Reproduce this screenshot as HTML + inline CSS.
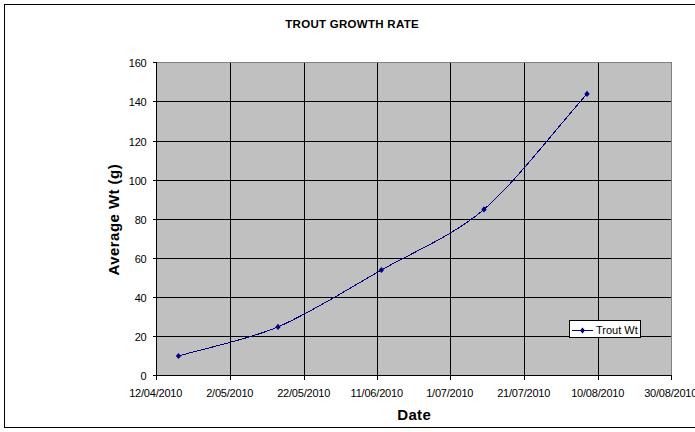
<!DOCTYPE html>
<html><head><meta charset="utf-8"><style>
html,body{margin:0;padding:0;background:#fff;width:695px;height:432px;overflow:hidden}
svg{display:block;font-family:"Liberation Sans",sans-serif}
</style></head><body>
<svg width="695" height="432" viewBox="0 0 695 432">
<rect width="695" height="432" fill="#fff"/>
<path d="M4.5,4V428M4,4.5H695M4,427.5H695" stroke="#000" shape-rendering="crispEdges"/>
<g shape-rendering="crispEdges">
<rect x="156" y="62" width="516" height="314" fill="#C0C0C0"/>
<path d="M156,101.5H672" stroke="#000"/>
<path d="M156,141.5H672" stroke="#000"/>
<path d="M156,180.5H672" stroke="#000"/>
<path d="M156,219.5H672" stroke="#000"/>
<path d="M156,258.5H672" stroke="#000"/>
<path d="M156,297.5H672" stroke="#000"/>
<path d="M156,336.5H672" stroke="#000"/>
<path d="M230.5,62V376" stroke="#000"/>
<path d="M304.5,62V376" stroke="#000"/>
<path d="M377.5,62V376" stroke="#000"/>
<path d="M450.5,62V376" stroke="#000"/>
<path d="M524.5,62V376" stroke="#000"/>
<path d="M598.5,62V376" stroke="#000"/>
<path d="M156,62.5H672M671.5,62V376" stroke="#808080"/>
<path d="M156.5,62V376M156,375.5H672" stroke="#000"/>
<path d="M153,62.5H156" stroke="#000"/>
<path d="M153,101.5H156" stroke="#000"/>
<path d="M153,141.5H156" stroke="#000"/>
<path d="M153,180.5H156" stroke="#000"/>
<path d="M153,219.5H156" stroke="#000"/>
<path d="M153,258.5H156" stroke="#000"/>
<path d="M153,297.5H156" stroke="#000"/>
<path d="M153,336.5H156" stroke="#000"/>
<path d="M153,375.5H156" stroke="#000"/>
<path d="M156.5,376V380" stroke="#000"/>
<path d="M230.5,376V380" stroke="#000"/>
<path d="M304.5,376V380" stroke="#000"/>
<path d="M377.5,376V380" stroke="#000"/>
<path d="M450.5,376V380" stroke="#000"/>
<path d="M524.5,376V380" stroke="#000"/>
<path d="M598.5,376V380" stroke="#000"/>
<path d="M671.5,376V380" stroke="#000"/>
</g>
<g font-size="11" fill="#000" letter-spacing="-0.2">
<text x="146.5" y="67" text-anchor="end">160</text>
<text x="146.5" y="106" text-anchor="end">140</text>
<text x="146.5" y="146" text-anchor="end">120</text>
<text x="146.5" y="185" text-anchor="end">100</text>
<text x="146.5" y="224" text-anchor="end">80</text>
<text x="146.5" y="263" text-anchor="end">60</text>
<text x="146.5" y="302" text-anchor="end">40</text>
<text x="146.5" y="341" text-anchor="end">20</text>
<text x="146.5" y="380" text-anchor="end">0</text>
<text x="155.7" y="397" text-anchor="middle">12/04/2010</text>
<text x="229.7" y="397" text-anchor="middle">2/05/2010</text>
<text x="303.7" y="397" text-anchor="middle">22/05/2010</text>
<text x="376.7" y="397" text-anchor="middle">11/06/2010</text>
<text x="449.7" y="397" text-anchor="middle">1/07/2010</text>
<text x="523.7" y="397" text-anchor="middle">21/07/2010</text>
<text x="597.7" y="397" text-anchor="middle">10/08/2010</text>
<text x="670.7" y="397" text-anchor="middle">30/08/2010</text>
</g>
<text x="352.1" y="28" text-anchor="middle" font-size="11.5" font-weight="bold" letter-spacing="0.28">TROUT GROWTH RATE</text>
<text x="414.2" y="419.6" text-anchor="middle" font-size="15" font-weight="bold" letter-spacing="0.35">Date</text>
<text transform="translate(118.8,219.7) rotate(-90)" text-anchor="middle" font-size="15" font-weight="bold" letter-spacing="0.45">Average Wt (g)</text>
<path d="M178.50,356.00 C208.35,347.27 247.56,339.80 278.00,326.90 C308.44,314.00 350.50,287.62 381.40,270.00 C412.30,252.38 453.16,235.81 484.00,209.40 C514.84,182.99 556.10,128.55 587.00,93.90" fill="none" stroke="#000080" stroke-width="1" shape-rendering="crispEdges"/>
<g fill="#000080"><path d="M178.50,352.90L181.20,356.00L178.50,359.10L175.80,356.00Z"/><path d="M278.00,323.80L280.70,326.90L278.00,330.00L275.30,326.90Z"/><path d="M381.40,266.90L384.10,270.00L381.40,273.10L378.70,270.00Z"/><path d="M484.00,206.30L486.70,209.40L484.00,212.50L481.30,209.40Z"/><path d="M587.00,90.80L589.70,93.90L587.00,97.00L584.30,93.90Z"/></g>
<rect x="569.5" y="320.5" width="71" height="17" fill="#fff" stroke="#000" shape-rendering="crispEdges"/>
<path d="M572,330.5H593" stroke="#000080" shape-rendering="crispEdges"/>
<path d="M582.5,327.5L585,330.5L582.5,333.5L580,330.5Z" fill="#000080"/>
<text x="596" y="334" font-size="11">Trout Wt</text>
</svg>
</body></html>
